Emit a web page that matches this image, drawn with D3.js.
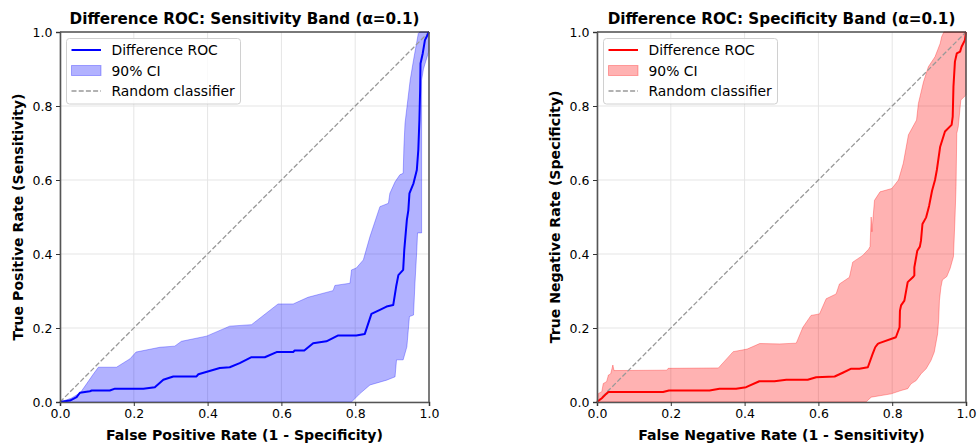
<!DOCTYPE html>
<html>
<head>
<meta charset="utf-8">
<script src="https://cdn.jsdelivr.net/npm/d3@7"></script>
<style>
  body { margin: 0; background: #fff; }
  svg { display: block; font-family: "DejaVu Sans", sans-serif; }
</style>
</head>
<body>
<svg id="chart" width="977" height="445"></svg>
<script>
// Left panel: difference ROC with sensitivity band, points are [fpr, tpr]
const sensRoc = [[0,0],[0.027,0.004],[0.045,0.013],[0.054,0.025],[0.081,0.029],[0.086,0.031],[0.135,0.031],
  [0.149,0.036],[0.226,0.036],[0.257,0.04],[0.28,0.06],[0.307,0.069],[0.37,0.069],[0.375,0.075],[0.433,0.092],
  [0.46,0.094],[0.487,0.105],[0.519,0.121],[0.555,0.121],[0.587,0.135],[0.632,0.135],[0.636,0.139],[0.662,0.139],
  [0.686,0.159],[0.722,0.164],[0.754,0.18],[0.803,0.18],[0.826,0.184],[0.844,0.238],[0.867,0.249],[0.885,0.258],
  [0.903,0.262],[0.911,0.312],[0.917,0.343],[0.93,0.357],[0.933,0.411],[0.94,0.492],[0.944,0.518],[0.947,0.564],
  [0.958,0.591],[0.967,0.627],[0.971,0.681],[0.974,0.762],[0.976,0.843],[0.977,0.915],[0.983,0.942],[0.989,0.978],
  [0.998,0.996],[1,1]];
const sensUpper = [[0,0],[0.03,0.01],[0.055,0.025],[0.072,0.049],[0.09,0.075],[0.104,0.094],[0.153,0.094],
  [0.19,0.117],[0.206,0.135],[0.271,0.148],[0.311,0.151],[0.329,0.164],[0.397,0.178],[0.46,0.205],[0.519,0.209],
  [0.591,0.265],[0.632,0.265],[0.672,0.283],[0.74,0.301],[0.745,0.315],[0.786,0.321],[0.79,0.357],[0.803,0.362],
  [0.822,0.384],[0.84,0.447],[0.867,0.528],[0.89,0.537],[0.894,0.564],[0.908,0.595],[0.921,0.614],[0.93,0.618],
  [0.932,0.69],[0.935,0.753],[0.949,0.87],[0.958,0.924],[0.971,0.996],[0.975,1],[1,1]];
const sensLower = [[0,0],[0.79,0],[0.812,0.022],[0.84,0.046],[0.885,0.059],[0.908,0.068],[0.912,0.114],
  [0.93,0.114],[0.94,0.149],[0.947,0.231],[0.958,0.235],[0.962,0.321],[0.967,0.411],[0.969,0.457],
  [0.98,0.457],[0.98,0.87],[0.985,0.9],[1,0.95],[1,1]];

// Right panel: difference ROC with specificity band, points are [fnr, tnr]
const specRoc = [[0,0],[0.013,0.01],[0.025,0.022],[0.031,0.027],[0.179,0.027],[0.195,0.031],[0.305,0.031],
  [0.332,0.036],[0.377,0.036],[0.404,0.04],[0.44,0.056],[0.481,0.056],[0.513,0.06],[0.571,0.06],[0.594,0.067],
  [0.644,0.069],[0.666,0.079],[0.689,0.09],[0.711,0.09],[0.734,0.094],[0.747,0.13],[0.751,0.14],[0.754,0.148],
  [0.761,0.157],[0.765,0.159],[0.81,0.175],[0.82,0.202],[0.821,0.247],[0.824,0.261],[0.833,0.274],[0.842,0.324],
  [0.856,0.337],[0.86,0.342],[0.86,0.364],[0.868,0.409],[0.875,0.42],[0.878,0.436],[0.882,0.481],[0.892,0.499],
  [0.9,0.53],[0.908,0.571],[0.916,0.6],[0.921,0.627],[0.93,0.69],[0.943,0.731],[0.961,0.749],[0.964,0.771],
  [0.966,0.852],[0.97,0.92],[0.975,0.942],[0.984,0.947],[0.988,0.96],[0.997,0.978],[1,1]];
const specUpper = [[0,0],[0.004,0.023],[0.013,0.028],[0.017,0.05],[0.026,0.055],[0.031,0.073],[0.037,0.076],
  [0.043,0.1],[0.046,0.085],[0.189,0.086],[0.193,0.091],[0.329,0.092],[0.369,0.136],[0.407,0.143],[0.441,0.158],
  [0.495,0.157],[0.54,0.159],[0.558,0.202],[0.58,0.234],[0.603,0.238],[0.621,0.279],[0.648,0.292],[0.657,0.319],
  [0.684,0.337],[0.693,0.378],[0.72,0.396],[0.736,0.413],[0.74,0.42],[0.743,0.5],[0.745,0.46],[0.752,0.545],
  [0.767,0.568],[0.799,0.577],[0.817,0.6],[0.83,0.645],[0.844,0.722],[0.866,0.762],[0.871,0.807],[0.885,0.866],
  [0.898,0.906],[0.916,0.933],[0.93,0.969],[0.934,0.987],[0.94,1],[1,1]];
const specLower = [[0,0],[0.729,0],[0.743,0.013],[0.797,0.022],[0.824,0.031],[0.842,0.036],[0.851,0.049],
  [0.865,0.058],[0.878,0.076],[0.892,0.09],[0.905,0.112],[0.914,0.135],[0.923,0.184],[0.926,0.222],[0.928,0.274],
  [0.932,0.31],[0.936,0.33],[0.948,0.339],[0.957,0.361],[0.966,0.393],[0.97,0.492],[0.973,0.582],[0.975,0.726],
  [0.979,0.744],[0.986,0.816],[1,0.83],[1,1]];

const tickValues = [0, 0.2, 0.4, 0.6, 0.8, 1.0];
const legendLabels = ["Difference ROC", "90% CI", "Random classifier"];

const panels = [
  {
    left: 60, title: "Difference ROC: Sensitivity Band (\u03b1=0.1)",
    xLabel: "False Positive Rate (1 - Specificity)", yLabel: "True Positive Rate (Sensitivity)",
    roc: sensRoc, upper: sensUpper, lower: sensLower, color: "#0000ff"
  },
  {
    left: 597, title: "Difference ROC: Specificity Band (\u03b1=0.1)",
    xLabel: "False Negative Rate (1 - Sensitivity)", yLabel: "True Negative Rate (Specificity)",
    roc: specRoc, upper: specUpper, lower: specLower, color: "#ff0000"
  }
];

const plotSize = 369;
const plotTop = 32;
const svg = d3.select("#chart");

panels.forEach(p => drawPanel(p));

function drawPanel(p) {
  const x = d3.scaleLinear().domain([0, 1]).range([p.left, p.left + plotSize]);
  const y = d3.scaleLinear().domain([0, 1]).range([plotTop + plotSize + 1, plotTop]);
  const g = svg.append("g");

  // grid
  g.append("g").selectAll("line").data(tickValues).join("line")
    .attr("x1", d => x(d)).attr("x2", d => x(d))
    .attr("y1", y(0)).attr("y2", y(1))
    .attr("stroke", "#e5e5e5").attr("stroke-width", 1);
  g.append("g").selectAll("line").data(tickValues).join("line")
    .attr("y1", d => y(d)).attr("y2", d => y(d))
    .attr("x1", x(0)).attr("x2", x(1))
    .attr("stroke", "#e5e5e5").attr("stroke-width", 1);

  const line = d3.line().x(d => x(d[0])).y(d => y(d[1]));

  // confidence band: upper edge out, lower edge back
  const band = p.upper.concat(p.lower.slice().reverse());
  g.append("path")
    .attr("d", line(band) + "Z")
    .attr("fill", p.color).attr("fill-opacity", 0.3)
    .attr("stroke", p.color).attr("stroke-opacity", 0.3).attr("stroke-width", 1);

  // diagonal
  g.append("path")
    .attr("d", line([[0, 0], [1, 1]]))
    .attr("fill", "none").attr("stroke", "#999").attr("stroke-width", 1.3)
    .attr("stroke-dasharray", "5,2.2");

  // roc curve
  g.append("path")
    .attr("d", line(p.roc))
    .attr("fill", "none").attr("stroke", p.color).attr("stroke-width", 2)
    .attr("stroke-linejoin", "round");

  // spines
  g.append("line").attr("x1", x(0)).attr("x2", x(1)).attr("y1", y(1)).attr("y2", y(1))
    .attr("stroke", "#000").attr("stroke-width", 1);
  g.append("line").attr("x1", x(1)).attr("x2", x(1)).attr("y1", y(0)).attr("y2", y(1))
    .attr("stroke", "#555").attr("stroke-width", 1.5);

  const xAxis = g.append("g")
    .attr("transform", `translate(0,${y(0)})`)
    .call(d3.axisBottom(x).tickValues(tickValues).tickFormat(d3.format(".1f")).tickSize(4).tickPadding(3.5));
  const yAxis = g.append("g")
    .attr("transform", `translate(${x(0)},0)`)
    .call(d3.axisLeft(y).tickValues(tickValues).tickFormat(d3.format(".1f")).tickSize(4).tickPadding(3.5));
  [xAxis, yAxis].forEach(a => {
    a.select(".domain").attr("stroke", "#555").attr("stroke-width", 1.6);
    a.selectAll(".tick line").attr("stroke", "#333");
    a.selectAll(".tick text").attr("font-size", 12.5).attr("fill", "#000")
      .attr("font-family", "DejaVu Sans");
  });

  // title and labels
  g.append("text")
    .attr("x", (x(0) + x(1)) / 2).attr("y", 24)
    .attr("text-anchor", "middle").attr("font-weight", "bold").attr("font-size", 15.2)
    .text(p.title);
  g.append("text")
    .attr("x", (x(0) + x(1)) / 2).attr("y", 440)
    .attr("text-anchor", "middle").attr("font-weight", "bold").attr("font-size", 14.1)
    .text(p.xLabel);
  g.append("text")
    .attr("transform", `translate(${p.left - 37},${(y(0) + y(1)) / 2}) rotate(-90)`)
    .attr("text-anchor", "middle").attr("font-weight", "bold").attr("font-size", 14.1)
    .text(p.yLabel);

  // legend
  const lg = g.append("g").attr("transform", `translate(${p.left + 6.5},38.5)`);
  lg.append("rect").attr("width", 174).attr("height", 65.5).attr("rx", 3)
    .attr("fill", "#fff").attr("fill-opacity", 0.8).attr("stroke", "#d0d0d0");
  const rowY = [11.5, 32, 52.5];
  lg.append("line").attr("x1", 5).attr("x2", 34.5).attr("y1", rowY[0]).attr("y2", rowY[0])
    .attr("stroke", p.color).attr("stroke-width", 2);
  lg.append("rect").attr("x", 5).attr("y", rowY[1] - 5).attr("width", 29.5).attr("height", 10)
    .attr("fill", p.color).attr("fill-opacity", 0.3)
    .attr("stroke", p.color).attr("stroke-opacity", 0.3);
  lg.append("line").attr("x1", 5).attr("x2", 34.5).attr("y1", rowY[2]).attr("y2", rowY[2])
    .attr("stroke", "#999").attr("stroke-width", 1.3).attr("stroke-dasharray", "5,2.2");
  lg.selectAll("text").data(legendLabels).join("text")
    .attr("x", 45).attr("y", (d, i) => rowY[i]).attr("dy", "0.36em")
    .attr("font-size", 13.9).text(d => d);
}
</script>
</body>
</html>
